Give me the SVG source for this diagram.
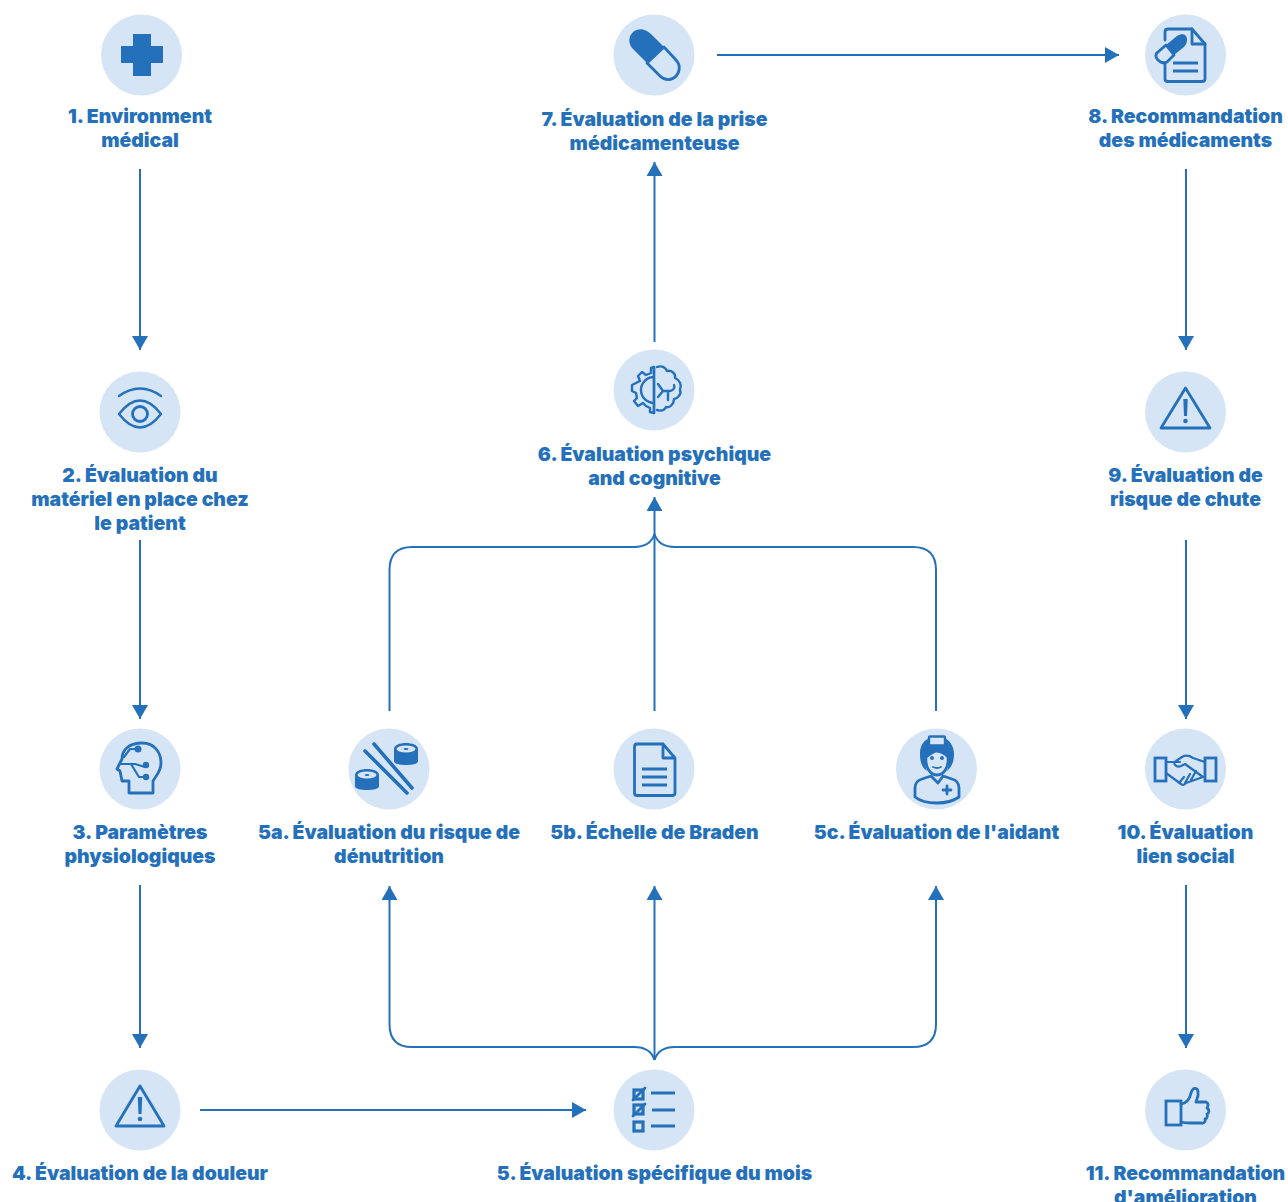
<svg xmlns="http://www.w3.org/2000/svg" width="1288" height="1202" viewBox="0 0 1288 1202">
<style>
.bg{fill:#d5e5f5}
text{font-family:"Inter","Liberation Sans",sans-serif;font-weight:900;font-size:19.450px;fill:#2570ba;text-anchor:middle}
.c{fill:none;stroke:#2570ba;stroke-width:2}
.i{fill:none;stroke:#2570ba;stroke-width:2.800;stroke-linejoin:round;stroke-linecap:round}
.f{fill:#2570ba;stroke:none}
.t{fill:none;stroke:#2570ba;stroke-width:3.200}
</style>
<defs>
<marker id="a" markerUnits="userSpaceOnUse" markerWidth="16" markerHeight="16" refX="14" refY="8" orient="auto"><path d="M0 0L14 8L0 16Z" fill="#2570ba"/></marker>
<circle id="b" r="40.500" class="bg"/>
</defs>
<rect width="1288" height="1202" fill="#fff"/>
<g id="connectors">
<path class="c" d="M140 169V350" marker-end="url(#a)"/>
<path class="c" d="M140 540V719" marker-end="url(#a)"/>
<path class="c" d="M140 885V1048" marker-end="url(#a)"/>
<path class="c" d="M200 1110H586" marker-end="url(#a)"/>
<path class="c" d="M654.500 1060V886" marker-end="url(#a)"/>
<path class="c" d="M654.500 1060C652 1052 646 1047 634 1047H412Q389.500 1047 389.500 1024V886" marker-end="url(#a)"/>
<path class="c" d="M654.500 1060C657 1052 663 1047 675 1047H913Q936 1047 936 1024V886" marker-end="url(#a)"/>
<path class="c" d="M654.500 711V497" marker-end="url(#a)"/>
<path class="c" d="M389.500 711V570Q389.500 547 412 547H634C646 547 652 542 654.500 534"/>
<path class="c" d="M936 711V570Q936 547 913 547H675C663 547 657 542 654.500 534"/>
<path class="c" d="M654.500 342V162" marker-end="url(#a)"/>
<path class="c" d="M717 55H1119" marker-end="url(#a)"/>
<path class="c" d="M1186 169V350" marker-end="url(#a)"/>
<path class="c" d="M1186 540V719" marker-end="url(#a)"/>
<path class="c" d="M1186 885V1048" marker-end="url(#a)"/>
</g>
<g id="n1"><use href="#b" x="141.500" y="55"/>
<path class="f" d="M133 34H151V46H163V63H151V76H133V63H121V46H133Z"/>
<text x="140" y="123">1. Environment</text><text x="140" y="147">médical</text></g>
<g id="n2"><use href="#b" x="140" y="412"/>
<path class="i" d="M119 414Q140 387 161 414Q140 441 119 414Z" style="stroke-width:2.400"/><circle class="i" cx="140" cy="414" r="7.500"/><path class="i" d="M119 396Q140 381 161 396" style="stroke-width:2.400"/>
<text x="140" y="482">2. Évaluation du</text><text x="140" y="506">matériel en place chez</text><text x="140" y="530">le patient</text></g>
<g id="n3"><use href="#b" x="140" y="769"/>
<path class="i" d="M129 793V781H122L120 771L117 769L122 759C122 749 130 743 142 743C154 743 161 752 161 763C161 772 155 777 153 781V793Z"/>
<path class="i" style="stroke-width:2.200" d="M120 764H135L145 767M124 757L130 749H138M131 764L139 777H146"/>
<circle class="f" cx="138" cy="749" r="3.500"/><circle class="f" cx="146" cy="765" r="3.200"/><circle class="f" cx="146" cy="777" r="3.200"/>
<text x="140" y="839">3. Paramètres</text><text x="140" y="863">physiologiques</text></g>
<g id="n4"><use href="#b" x="140" y="1110"/>
<path class="i" d="M140 1086L164 1126H116Z"/><path class="f" d="M137.800 1097H142.200L141.500 1114H138.500Z"/><circle class="f" cx="140" cy="1119" r="2.300"/>
<text x="140" y="1180">4. Évaluation de la douleur</text></g>
<g id="n5"><use href="#b" x="654" y="1110"/>
<rect class="t" x="634" y="1090" width="9" height="9"/><rect class="t" x="634" y="1105" width="9" height="9"/><rect class="t" x="634" y="1122" width="9" height="9"/>
<path class="i" d="M633 1100L645 1088M633 1116L645 1104"/>
<path class="i" style="stroke-width:3;stroke-linecap:butt" d="M651 1093H675M652 1110H675M651 1126H675"/>
<text x="654.500" y="1180">5. Évaluation spécifique du mois</text></g>
<g id="n5a"><use href="#b" x="389" y="769"/>
<path class="i" style="stroke-width:3.600" d="M365 751L407 793M374 744L412 788"/>
<path class="f" d="M394 749C394 745 400 743 406 743C412 743 418 745 418 749V761C418 764 412 765 406 765C400 765 394 764 394 761Z"/><ellipse class="bg" cx="406" cy="749" rx="9.500" ry="3.500"/><ellipse class="f" cx="406" cy="749" rx="2.500" ry="1"/>
<path class="f" d="M355 775C355 771 361 769 367 769C373 769 379 771 379 775V786C379 789 373 790 367 790C361 790 355 789 355 786Z"/><ellipse class="bg" cx="367" cy="775" rx="9.500" ry="3.500"/><ellipse class="f" cx="367" cy="775" rx="2.500" ry="1"/>
<text x="389" y="839">5a. Évaluation du risque de</text><text x="389" y="863">dénutrition</text></g>
<g id="n5b"><use href="#b" x="654" y="769"/>
<path class="i" d="M663 744H637Q634.500 744 634.500 747V793Q634.500 795.500 637 795.500H672Q675 795.500 675 793V758L663 744V758H675"/>
<path class="i" style="stroke-width:3;stroke-linecap:butt" d="M642 769H667M642 777H667M642 785H667"/>
<text x="654.500" y="839">5b. Échelle de Braden</text></g>
<g id="n5c"><use href="#b" x="936.500" y="769"/>
<path class="f" d="M929 738C921 742 920 749 920 754C920 762 922 768 927 771C925 766 925 762 926 757C930 754 933 752 936 751C939 751 945 753 948 757C949 762 949 766 947 771C952 767 954 761 954 754C954 749 952 742 945 738Z"/>
<rect x="929" y="736.500" width="16" height="9" rx="1" fill="#d5e5f5" stroke="#2570ba" stroke-width="2.400"/>
<path class="i" d="M926 757C930 754 933 752 936 751C939 751 945 753 948 757C949 767 944 775 937 775C930 775 925 767 926 757Z"/>
<circle class="f" cx="932" cy="758" r="2"/><circle class="f" cx="942" cy="758" r="2"/><path class="i" style="stroke-width:1.800" d="M933 767Q937 769 941 767"/>
<path class="i" d="M931 776L922 779Q915 781 915 788V797C925 805 948 805 959 797V788Q959 781 952 779L943 776L938 783Z"/>
<path class="i" d="M947 786V794M943 790H951"/>
<text x="936.500" y="839">5c. Évaluation de l'aidant</text></g>
<g id="n6"><use href="#b" x="654" y="390"/>
<path class="i" style="stroke-width:2.400" d="M654 367L651 368V373L646 375L642 372L638 376L640 381L636 383L632 385V391L636 393L637 398L634 401L638 406L643 403L646 406L650 408V412L654 413Z"/>
<path class="i" style="stroke-width:2.400" d="M654 377A13 13 0 0 0 654 403M654 367V413"/>
<path class="i" style="stroke-width:2.400" d="M657 367C662 365 666 368 667 371C672 370 676 374 675 378C680 380 682 385 680 390C682 394 677 399 674 399C674 404 670 408 666 407C664 411 660 411 657 410M658 384L663 391L658 397M663 391H669C674 391 675 387 674 385M668 392V400"/>
<text x="654.500" y="461">6. Évaluation psychique</text><text x="654.500" y="485">and cognitive</text></g>
<g id="n7"><use href="#b" x="654" y="55"/>
<path class="f" d="M664 47L647 63L633 49C622 37 638 21 651 34Z"/>
<path class="i" d="M647 63L664 47L676 60C686 71 671 87 660 76Z"/>
<text x="654.500" y="126">7. Évaluation de la prise</text><text x="654.500" y="150">médicamenteuse</text></g>
<g id="n8"><use href="#b" x="1185.500" y="55"/>
<path class="i" d="M1165 40V32Q1165 29 1168 29H1192L1205 44V79Q1205 81.500 1202 81.500H1168Q1165 81.500 1165 79V64"/>
<path class="i" d="M1192 29V44H1205"/>
<path class="f" d="M1166 45L1177 36C1187 30 1190 41 1184 47L1174 55Z"/>
<path class="i" d="M1166 45L1174 55L1167 62C1160 65 1152 56 1158 52Z"/>
<path class="i" style="stroke-width:3;stroke-linecap:butt" d="M1173 63H1198M1173 71H1198"/>
<text x="1185.500" y="123">8. Recommandation</text><text x="1185.500" y="147">des médicaments</text></g>
<g id="n9"><use href="#b" x="1185.500" y="412"/>
<path class="i" d="M1185.500 388L1210 428H1161Z"/><path class="f" d="M1183.300 399H1187.700L1187 416H1184Z"/><circle class="f" cx="1185.500" cy="421" r="2.300"/>
<text x="1185.500" y="482">9. Évaluation de</text><text x="1185.500" y="506">risque de chute</text></g>
<g id="n10"><use href="#b" x="1185.500" y="769"/>
<rect class="i" style="stroke-linejoin:miter" x="1155" y="758" width="11" height="23"/><rect class="i" style="stroke-linejoin:miter" x="1205" y="758" width="11" height="23"/>
<path class="i" style="stroke-width:2.200" d="M1166 762H1180M1205 762L1193 758Q1187 754 1182 757L1176 761C1172 763 1176 768 1181 766L1185 764L1203 777M1166 773L1181 784Q1184 786 1186 783L1203 777M1179 783L1184 777M1185 783L1190 774M1191 780L1196 771"/>
<text x="1185.500" y="839">10. Évaluation</text><text x="1185.500" y="863">lien social</text></g>
<g id="n11"><use href="#b" x="1185.500" y="1110"/>
<rect class="i" style="stroke-linejoin:miter" x="1166" y="1101" width="15" height="24"/>
<path class="i" d="M1181 1104C1187 1103 1190 1098 1191 1093C1193 1086 1198 1088 1198 1092C1199 1097 1196 1100 1196 1102H1206C1209 1103 1208 1107 1207 1108C1210 1110 1209 1113 1207 1114C1208 1116 1207 1119 1205 1119C1206 1122 1203 1124 1201 1123H1190C1186 1123 1184 1123 1181 1122"/>
<text x="1185.500" y="1180">11. Recommandation</text><text x="1185.500" y="1204">d'amélioration</text></g>
</svg>
